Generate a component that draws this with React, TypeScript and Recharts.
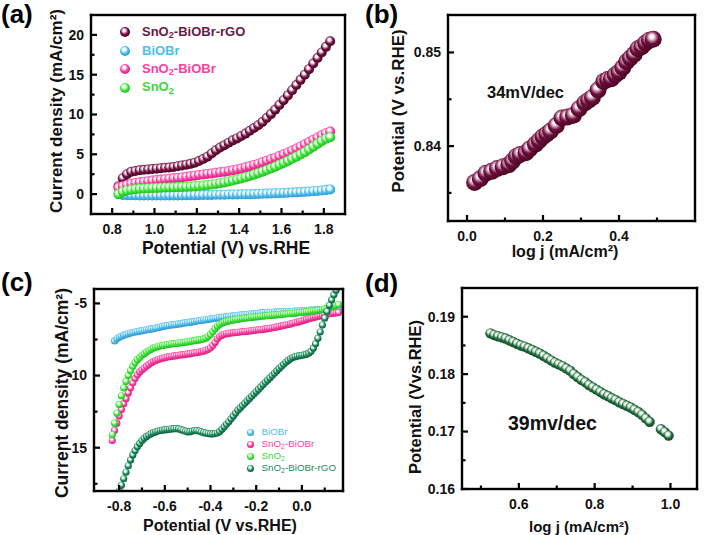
import React from 'react';
import { ScatterChart, Scatter, XAxis, YAxis } from 'recharts';

// ---------- (a) LSV, OER side ----------
const potentialA = [
  0.83, 0.85, 0.87, 0.89, 0.91, 0.93, 0.95, 0.97, 0.99, 1.01,
  1.03, 1.05, 1.07, 1.09, 1.11, 1.13, 1.15, 1.17, 1.19, 1.21,
  1.23, 1.25, 1.27, 1.29, 1.31, 1.33, 1.35, 1.37, 1.39, 1.41,
  1.43, 1.45, 1.47, 1.49, 1.51, 1.53, 1.55, 1.57, 1.59, 1.61,
  1.63, 1.65, 1.67, 1.69, 1.71, 1.73, 1.75, 1.77, 1.79, 1.81,
  1.83,
];
const rgoA = [
  1.0, 2.0, 2.5, 2.8, 2.9, 3.0, 3.05, 3.1, 3.15, 3.2,
  3.25, 3.3, 3.35, 3.4, 3.5, 3.6, 3.7, 3.8, 3.95, 4.15,
  4.4, 4.7, 5.1, 5.5, 5.85, 6.15, 6.45, 6.75, 7.0, 7.3,
  7.6, 7.95, 8.3, 8.65, 9.05, 9.55, 10.05, 10.6, 11.2, 11.8,
  12.4, 13.05, 13.7, 14.35, 15.0, 15.7, 16.4, 17.1, 17.8, 18.5,
  19.2,
];
const biobrA = [
  0.0, -0.1, -0.13, -0.15, -0.16, -0.17, -0.17, -0.18, -0.18, -0.18,
  -0.18, -0.18, -0.18, -0.17, -0.17, -0.16, -0.16, -0.15, -0.14, -0.13,
  -0.12, -0.11, -0.1, -0.09, -0.08, -0.07, -0.06, -0.05, -0.04, -0.03,
  -0.02, -0.01, 0.0, 0.02, 0.04, 0.06, 0.08, 0.1, 0.12, 0.14,
  0.16, 0.19, 0.22, 0.25, 0.28, 0.32, 0.36, 0.4, 0.45, 0.5,
  0.58,
];
const sno2BiobrA = [
  0.8, 1.0, 1.15, 1.3, 1.4, 1.48, 1.55, 1.62, 1.7, 1.76,
  1.82, 1.88, 1.93, 1.98, 2.03, 2.1, 2.17, 2.24, 2.32, 2.4,
  2.47, 2.54, 2.6, 2.67, 2.74, 2.82, 2.9, 3.0, 3.1, 3.22,
  3.36, 3.5, 3.66, 3.82, 4.0, 4.18, 4.37, 4.57, 4.78, 5.0,
  5.23, 5.47, 5.72, 5.98, 6.25, 6.53, 6.82, 7.1, 7.38, 7.65,
  7.85,
];
const sno2A = [
  0.0, 0.3, 0.45, 0.55, 0.62, 0.67, 0.7, 0.73, 0.76, 0.78,
  0.8, 0.82, 0.84, 0.86, 0.88, 0.9, 0.92, 0.95, 0.98, 1.02,
  1.07, 1.13, 1.2, 1.28, 1.37, 1.47, 1.58, 1.7, 1.83, 1.97,
  2.12, 2.28, 2.45, 2.63, 2.82, 3.02, 3.23, 3.45, 3.68, 3.92,
  4.17, 4.43, 4.7, 4.98, 5.27, 5.6, 5.95, 6.3, 6.65, 6.95,
  7.15,
];

// ---------- (b) Tafel, OER ----------
const logjB = [
  0.02, 0.035, 0.05, 0.065, 0.08, 0.095, 0.11, 0.12, 0.13, 0.14,
  0.155, 0.165, 0.18, 0.19, 0.2, 0.21, 0.22, 0.235, 0.25, 0.265,
  0.28, 0.295, 0.31, 0.32, 0.33, 0.345, 0.36, 0.37, 0.38, 0.39,
  0.4, 0.41, 0.42, 0.43, 0.44, 0.45, 0.46, 0.47, 0.48, 0.49,
];
const potentialB = [
  0.8361, 0.8365, 0.8371, 0.8373, 0.8376, 0.8378, 0.838, 0.8384, 0.8389, 0.8391,
  0.8393, 0.8397, 0.8402, 0.8406, 0.841, 0.8413, 0.8416, 0.8422, 0.843, 0.8431,
  0.8433, 0.844, 0.8446, 0.8449, 0.8452, 0.846, 0.8469, 0.8471, 0.8472, 0.8476,
  0.8479, 0.8484, 0.849, 0.8494, 0.8498, 0.8504, 0.8506, 0.851, 0.8513, 0.8514,
];

// ---------- (c) LSV, HER side ----------
const potentialC = [
  -0.83, -0.82, -0.81, -0.8, -0.79, -0.78, -0.77, -0.76, -0.75, -0.74,
  -0.73, -0.72, -0.71, -0.7, -0.69, -0.68, -0.67, -0.66, -0.65, -0.64,
  -0.63, -0.62, -0.61, -0.6, -0.59, -0.58, -0.57, -0.56, -0.55, -0.54,
  -0.53, -0.52, -0.51, -0.5, -0.49, -0.48, -0.47, -0.46, -0.45, -0.44,
  -0.43, -0.42, -0.41, -0.4, -0.39, -0.38, -0.37, -0.36, -0.35, -0.34,
  -0.33, -0.32, -0.31, -0.3, -0.29, -0.28, -0.27, -0.26, -0.25, -0.24,
  -0.23, -0.22, -0.21, -0.2, -0.19, -0.18, -0.17, -0.16, -0.15, -0.14,
  -0.13, -0.12, -0.11, -0.1, -0.09, -0.08, -0.07, -0.06, -0.05, -0.04,
  -0.03, -0.02, -0.01, 0.0, 0.01, 0.02, 0.03, 0.04, 0.05, 0.06,
  0.07, 0.08, 0.09, 0.1, 0.11, 0.12, 0.13, 0.14, 0.15, 0.16,
];
const biobrC = [
  null, -7.6, -7.45, -7.35, -7.28, -7.2, -7.15, -7.1, -7.05, -7.02,
  -6.98, -6.95, -6.92, -6.89, -6.86, -6.83, -6.8, -6.77, -6.74, -6.71,
  -6.68, -6.64, -6.6, -6.56, -6.54, -6.52, -6.49, -6.47, -6.45, -6.42,
  -6.4, -6.37, -6.35, -6.33, -6.3, -6.28, -6.25, -6.22, -6.2, -6.17,
  -6.15, -6.13, -6.1, -6.08, -6.06, -6.03, -6.01, -5.99, -5.97, -5.95,
  -5.92, -5.9, -5.87, -5.86, -5.84, -5.82, -5.81, -5.79, -5.78, -5.76,
  -5.75, -5.73, -5.72, -5.7, -5.68, -5.66, -5.64, -5.63, -5.62, -5.62,
  -5.61, -5.6, -5.6, -5.59, -5.58, -5.58, -5.57, -5.56, -5.56, -5.55,
  -5.54, -5.53, -5.52, -5.51, -5.5, -5.49, -5.48, -5.47, -5.46, -5.45,
  -5.44, -5.43, -5.42, -5.41, -5.39, -5.37, -5.35, -5.33, -5.31, -5.3,
];
const sno2BiobrC = [
  -14.5, -13.8, -13.3, -12.8, -12.35, -11.95, -11.6, -11.2, -10.85, -10.5,
  -10.2, -9.95, -9.75, -9.6, -9.48, -9.35, -9.23, -9.12, -9.03, -8.95,
  -8.89, -8.84, -8.8, -8.76, -8.72, -8.69, -8.66, -8.64, -8.62, -8.59,
  -8.57, -8.55, -8.53, -8.5, -8.48, -8.45, -8.43, -8.4, -8.37, -8.34,
  -8.3, -8.25, -8.18, -8.08, -7.92, -7.7, -7.45, -7.3, -7.2, -7.14,
  -7.1, -7.07, -7.05, -7.03, -7.02, -7.0, -6.98, -6.96, -6.95, -6.93,
  -6.91, -6.89, -6.87, -6.85, -6.83, -6.81, -6.79, -6.77, -6.74, -6.72,
  -6.69, -6.66, -6.63, -6.6, -6.56, -6.53, -6.5, -6.46, -6.42, -6.38,
  -6.34, -6.3, -6.26, -6.21, -6.16, -6.11, -6.06, -6.02, -5.98, -5.94,
  -5.9, -5.86, -5.82, -5.78, -5.75, -5.72, -5.69, -5.67, -5.65, -5.63,
];
const sno2C = [
  -14.1, -13.3, -12.6, -12.0, -11.4, -10.85, -10.4, -10.0, -9.65, -9.35,
  -9.1, -8.9, -8.75, -8.6, -8.48, -8.37, -8.27, -8.18, -8.1, -8.04,
  -7.99, -7.95, -7.91, -7.88, -7.85, -7.83, -7.81, -7.79, -7.77, -7.75,
  -7.73, -7.71, -7.68, -7.66, -7.63, -7.6, -7.58, -7.55, -7.53, -7.5,
  -7.46, -7.4, -7.3, -7.15, -6.95, -6.75, -6.58, -6.45, -6.37, -6.3,
  -6.25, -6.21, -6.18, -6.15, -6.12, -6.1, -6.07, -6.05, -6.02, -6.0,
  -5.98, -5.96, -5.95, -5.93, -5.91, -5.89, -5.88, -5.86, -5.85, -5.83,
  -5.82, -5.8, -5.79, -5.77, -5.76, -5.74, -5.73, -5.71, -5.7, -5.68,
  -5.67, -5.65, -5.63, -5.62, -5.6, -5.58, -5.56, -5.54, -5.52, -5.5,
  -5.47, -5.44, -5.41, -5.37, -5.33, -5.28, -5.23, -5.18, -5.13, -5.08,
];
const rgoC = [
  null, null, null, -18.0, -17.6, -17.15, -16.7, -16.25, -15.85, -15.5,
  -15.2, -14.93, -14.7, -14.5, -14.35, -14.22, -14.12, -14.03, -13.96, -13.9,
  -13.85, -13.81, -13.78, -13.76, -13.74, -13.72, -13.7, -13.69, -13.68, -13.7,
  -13.74, -13.8, -13.86, -13.9, -13.89, -13.85, -13.82, -13.82, -13.85, -13.9,
  -13.95, -13.99, -14.02, -14.04, -14.04, -14.02, -13.98, -13.88, -13.72, -13.55,
  -13.38, -13.2, -13.0, -12.8, -12.6, -12.4, -12.24, -12.08, -11.92, -11.76,
  -11.6, -11.44, -11.28, -11.12, -10.96, -10.8, -10.63, -10.47, -10.32, -10.16,
  -10.0, -9.84, -9.68, -9.52, -9.37, -9.22, -9.08, -8.95, -8.84, -8.75,
  -8.69, -8.65, -8.62, -8.6, -8.57, -8.52, -8.45, -8.32, -8.1, -7.8,
  -7.42, -6.98, -6.5, -6.02, -5.56, -5.13, -4.75, -4.4, -4.08, null,
];

// ---------- (d) Tafel, HER ----------
const logjD = [
  0.525, 0.535, 0.545, 0.555, 0.565, 0.575, 0.585, 0.595, 0.605, 0.615,
  0.625, 0.635, 0.645, 0.655, 0.665, 0.675, 0.685, 0.695, 0.705, 0.715,
  0.725, 0.735, 0.745, 0.755, 0.765, 0.775, 0.785, 0.795, 0.805, 0.815,
  0.825, 0.835, 0.845, 0.855, 0.865, 0.875, 0.885, 0.895, 0.905, 0.915,
  0.925, 0.935, 0.945, 0.975, 0.985, 0.995,
];
const potentialD = [
  0.1871, 0.1868, 0.1866, 0.1864, 0.1862, 0.1859, 0.1856, 0.1853, 0.185, 0.1848,
  0.1845, 0.1842, 0.1839, 0.1836, 0.1832, 0.1828, 0.1824, 0.182, 0.1817, 0.1814,
  0.181, 0.1806, 0.18, 0.1795, 0.179, 0.1786, 0.1781, 0.1777, 0.1773, 0.1769,
  0.1765, 0.1762, 0.1758, 0.1755, 0.1751, 0.1748, 0.1745, 0.1742, 0.1738, 0.1734,
  0.1729, 0.1723, 0.1717, 0.1704, 0.1699, 0.1693,
];

// ticks (major ones get labels)
const ticksAx = [0.8, 0.9, 1.0, 1.1, 1.2, 1.3, 1.4, 1.5, 1.6, 1.7, 1.8];
const majorAx = [0.8, 1.0, 1.2, 1.4, 1.6, 1.8];
const ticksAy = [0, 2.5, 5, 7.5, 10, 12.5, 15, 17.5, 20];
const majorAy = [0, 5, 10, 15, 20];
const ticksBx = [0, 0.1, 0.2, 0.3, 0.4, 0.5];
const majorBx = [0, 0.2, 0.4];
const ticksBy = [0.835, 0.84, 0.845, 0.85];
const majorBy = [0.84, 0.85];
const ticksCx = [-0.8, -0.7, -0.6, -0.5, -0.4, -0.3, -0.2, -0.1, 0, 0.1];
const majorCx = [-0.8, -0.6, -0.4, -0.2, 0];
const ticksCy = [-17.5, -15, -12.5, -10, -7.5, -5];
const majorCy = [-15, -10, -5];
const ticksDx = [0.5, 0.6, 0.7, 0.8, 0.9, 1.0];
const majorDx = [0.6, 0.8, 1.0];
const ticksDy = [0.16, 0.165, 0.17, 0.175, 0.18, 0.185, 0.19];
const majorDy = [0.16, 0.17, 0.18, 0.19];

const zip = (xs: number[], ys: (number | null)[]) =>
  xs.map((x, i) => ({ x, y: ys[i] })).filter((p) => p.y != null) as { x: number; y: number }[];

const spheres: Record<string, [string, string, string]> = {
  maroon: ['#d9a3bd', '#6d0f3d', '#45061f'],
  blue: ['#d4f2fd', '#4dbdf0', '#2a93c8'],
  pink: ['#ffc6e3', '#ff3ea0', '#d41c7a'],
  green: ['#ccffc6', '#3de83a', '#1fb51f'],
  teal: ['#b8e4d2', '#1d8b5e', '#0d5a3a'],
  forest: ['#c2ddc9', '#1f6b3a', '#0f4424'],
};

const FONT = '"Liberation Sans", Arial, sans-serif';
const INK = '#000';

const near = (list: number[], v: number) => list.some((m) => Math.abs(m - v) < 1e-7);

// ticks point into the plot; drawn as filled rects
const xTick = (major: number[], digits: number, size: number) => (p: any) => {
  const v = p.payload.value;
  const big = near(major, v);
  const len = big ? 6 : 3.5;
  return (
    <g>
      <rect x={p.x - 1.1} y={p.y - len} width={2.2} height={len} fill={INK} />
      {big && (
        <text x={p.x} y={p.y + 20} textAnchor="middle" fontSize={size} fontWeight="bold" fontFamily={FONT} fill="#111">
          {v.toFixed(digits)}
        </text>
      )}
    </g>
  );
};

const yTick = (major: number[], digits: number, size: number) => (p: any) => {
  const v = p.payload.value;
  const big = near(major, v);
  const len = big ? 6 : 3.5;
  return (
    <g>
      <rect x={p.x} y={p.y - 1.1} width={len} height={2.2} fill={INK} />
      {big && (
        <text x={p.x - 7} y={p.y} dy="0.35em" textAnchor="end" fontSize={size} fontWeight="bold" fontFamily={FONT} fill="#111">
          {v.toFixed(digits)}
        </text>
      )}
    </g>
  );
};

const sphere = (key: string, r: number) => (props: any) =>
  props.cx == null ? <g /> : <circle cx={props.cx} cy={props.cy} r={r} fill={`url(#sph-${key})`} />;

interface Series { name: string; color: string; r: number; data: { x: number; y: number }[] }

interface PanelProps {
  left: number; top: number; width: number; height: number;
  mTop: number; mRight: number; yWidth: number; xHeight: number;
  xDomain: [number, number]; yDomain: [number, number];
  xTicks: number[]; xMajor: number[]; xDigits: number;
  yTicks: number[]; yMajor: number[]; yDigits: number;
  xSize: number; ySize: number;
  series: Series[];
}

function Panel(p: PanelProps) {
  // the plot rectangle follows from the margins and axis sizes
  const fx = p.yWidth;
  const fy = p.mTop;
  const fw = p.width - p.mRight - p.yWidth;
  const fh = p.height - p.mTop - p.xHeight;
  const t = 2.4;
  return (
    <div style={{ position: 'absolute', left: p.left, top: p.top, width: p.width, height: p.height }}>
      <ScatterChart width={p.width} height={p.height} margin={{ top: p.mTop, right: p.mRight, left: 0, bottom: 0 }}>
        <XAxis type="number" dataKey="x" domain={p.xDomain} allowDataOverflow ticks={p.xTicks} interval={0}
          height={p.xHeight} axisLine={false} tickLine={false} tickSize={0} tickMargin={0}
          tick={xTick(p.xMajor, p.xDigits, p.xSize)} />
        <YAxis type="number" dataKey="y" domain={p.yDomain} allowDataOverflow ticks={p.yTicks} interval={0}
          width={p.yWidth} axisLine={false} tickLine={false} tickSize={0} tickMargin={0}
          tick={yTick(p.yMajor, p.yDigits, p.ySize)} />
        {p.series.map((s) => (
          <Scatter key={s.name} name={s.name} data={s.data} isAnimationActive={false} shape={sphere(s.color, s.r)} />
        ))}
      </ScatterChart>
      <svg width={p.width} height={p.height} style={{ position: 'absolute', left: 0, top: 0, pointerEvents: 'none' }}>
        <rect x={fx - t / 2} y={fy - t / 2} width={fw + t} height={t} fill={INK} />
        <rect x={fx - t / 2} y={fy + fh - t / 2} width={fw + t} height={t} fill={INK} />
        <rect x={fx - t / 2} y={fy - t / 2} width={t} height={fh + t} fill={INK} />
        <rect x={fx + fw - t / 2} y={fy - t / 2} width={t} height={fh + t} fill={INK} />
      </svg>
    </div>
  );
}

const Sno2 = ({ rest }: { rest: string }) => (
  <>SnO<span style={{ fontSize: '0.7em', position: 'relative', top: '0.3em' }}>2</span>{rest}</>
);

function Legend({ x, y, gap, r, size, bold, textGap, items }: any) {
  return (
    <>
      {items.map((it: any, i: number) => (
        <div key={i} style={{ position: 'absolute', left: x - r, top: y + i * gap - 10, height: 20, display: 'flex', alignItems: 'center', whiteSpace: 'nowrap' }}>
          <svg width={r * 2} height={r * 2} style={{ flex: 'none' }}>
            <circle cx={r} cy={r} r={r} fill={`url(#sph-${it.color})`} />
          </svg>
          <span style={{ marginLeft: textGap, fontSize: size, fontWeight: bold ? 700 : 400, color: it.text, lineHeight: '20px' }}>
            {it.sno2 ? <Sno2 rest={it.label} /> : it.label}
          </span>
        </div>
      ))}
    </>
  );
}

const abs = (l: number, t: number, extra: React.CSSProperties = {}): React.CSSProperties => ({
  position: 'absolute', left: l, top: t, whiteSpace: 'nowrap', ...extra,
});

function YTitle({ cx, cy, children, size }: any) {
  return (
    <div style={abs(cx, cy, { transform: 'translate(-50%, -50%) rotate(-90deg)', fontSize: size, fontWeight: 700, color: '#111' })}>
      {children}
    </div>
  );
}

function XTitle({ cx, cy, children, size }: any) {
  return (
    <div style={abs(cx, cy, { transform: 'translate(-50%, -50%)', fontSize: size, fontWeight: 700, color: '#111' })}>
      {children}
    </div>
  );
}

export default function App() {
  const seriesA: Series[] = [
    { name: 'SnO2-BiOBr-rGO', color: 'maroon', r: 5, data: zip(potentialA, rgoA) },
    { name: 'BiOBr', color: 'blue', r: 5, data: zip(potentialA, biobrA) },
    { name: 'SnO2-BiOBr', color: 'pink', r: 5, data: zip(potentialA, sno2BiobrA) },
    { name: 'SnO2', color: 'green', r: 5, data: zip(potentialA, sno2A) },
  ];
  const seriesB: Series[] = [{ name: 'tafel-b', color: 'maroon', r: 8.5, data: zip(logjB, potentialB) }];
  const seriesC: Series[] = [
    { name: 'BiOBr', color: 'blue', r: 3.6, data: zip(potentialC, biobrC) },
    { name: 'SnO2-BiOBr', color: 'pink', r: 3.6, data: zip(potentialC, sno2BiobrC) },
    { name: 'SnO2', color: 'green', r: 3.6, data: zip(potentialC, sno2C) },
    { name: 'SnO2-BiOBr-rGO', color: 'teal', r: 3.6, data: zip(potentialC, rgoC) },
  ];
  const seriesD: Series[] = [{ name: 'tafel-d', color: 'forest', r: 5.2, data: zip(logjD, potentialD) }];

  return (
    <div style={{ position: 'absolute', left: 0, top: 0, width: 704, height: 535, background: '#fff', overflow: 'hidden', fontFamily: FONT }}>
      <svg width={0} height={0} style={{ position: 'absolute' }}>
        <defs>
          {Object.entries(spheres).map(([k, [light, base, dark]]) => (
            <radialGradient key={k} id={`sph-${k}`} cx="0.45" cy="0.42" r="0.6" fx="0.4" fy="0.32">
              <stop offset="0" stopColor="#ffffff" />
              <stop offset="0.18" stopColor="#ffffff" stopOpacity={0.95} />
              <stop offset="0.34" stopColor={light} />
              <stop offset="0.62" stopColor={base} />
              <stop offset="1" stopColor={dark} />
            </radialGradient>
          ))}
        </defs>
      </svg>

      <Panel left={0} top={0} width={352} height={260} mTop={15} mRight={7} yWidth={91} xHeight={46}
        xDomain={[0.7, 1.9]} yDomain={[-2.5, 22.5]} xTicks={ticksAx} xMajor={majorAx} xDigits={1}
        yTicks={ticksAy} yMajor={majorAy} yDigits={0} xSize={14} ySize={14} series={seriesA} />
      <Panel left={352} top={0} width={352} height={260} mTop={15} mRight={9} yWidth={96} xHeight={39}
        xDomain={[-0.05, 0.6]} yDomain={[0.832, 0.854]} xTicks={ticksBx} xMajor={majorBx} xDigits={1}
        yTicks={ticksBy} yMajor={majorBy} yDigits={2} xSize={14} ySize={14} series={seriesB} />
      <Panel left={0} top={260} width={352} height={275} mTop={29} mRight={9} yWidth={94} xHeight={44}
        xDomain={[-0.91, 0.18]} yDomain={[-18, -4]} xTicks={ticksCx} xMajor={majorCx} xDigits={1}
        yTicks={ticksCy} yMajor={majorCy} yDigits={0} xSize={14} ySize={14} series={seriesC} />
      <Panel left={352} top={260} width={352} height={275} mTop={28} mRight={7} yWidth={110} xHeight={46}
        xDomain={[0.45, 1.07]} yDomain={[0.16, 0.195]} xTicks={ticksDx} xMajor={majorDx} xDigits={1}
        yTicks={ticksDy} yMajor={majorDy} yDigits={2} xSize={14} ySize={14} series={seriesD} />

      {/* panel letters */}
      <div style={abs(1, -1, { fontSize: 26, fontWeight: 700 })}>(a)</div>
      <div style={abs(365, -1, { fontSize: 26, fontWeight: 700 })}>(b)</div>
      <div style={abs(1, 267, { fontSize: 26, fontWeight: 700 })}>(c)</div>
      <div style={abs(365, 268, { fontSize: 26, fontWeight: 700 })}>(d)</div>

      {/* axis titles */}
      <YTitle cx={57} cy={111} size={17}>Current density (mA/cm²)</YTitle>
      <XTitle cx={226} cy={248} size={17.5}>Potential (V) vs.RHE</XTitle>
      <YTitle cx={399} cy={111} size={17}>Potential (V vs.RHE)</YTitle>
      <XTitle cx={565} cy={252} size={16}>log j (mA/cm²)</XTitle>
      <YTitle cx={62} cy={393} size={17.5}>Current density (mA/cm²)</YTitle>
      <XTitle cx={220} cy={526} size={16}>Potential (V vs.RHE)</XTitle>
      <YTitle cx={415} cy={397} size={16.5}>Potential (Vvs.RHE)</YTitle>
      <XTitle cx={579} cy={526} size={15}>log j (mA/cm²)</XTitle>

      {/* annotations */}
      <div style={abs(487, 83, { fontSize: 16.5, fontWeight: 700, color: '#111' })}>34mV/dec</div>
      <div style={abs(508, 412, { fontSize: 19.5, fontWeight: 700, color: '#111' })}>39mv/dec</div>

      <Legend x={125} y={32} gap={18.5} r={5} size={13} bold textGap={12} items={[
        { color: 'maroon', text: '#6b1a43', label: '-BiOBr-rGO', sno2: true },
        { color: 'blue', text: '#4fbdef', label: 'BiOBr' },
        { color: 'pink', text: '#ff3ea0', label: '-BiOBr', sno2: true },
        { color: 'green', text: '#3ad83a', label: '', sno2: true },
      ]} />
      <Legend x={250} y={432} gap={12.2} r={3.5} size={9.8} textGap={8} items={[
        { color: 'blue', text: '#4fbdef', label: 'BiOBr' },
        { color: 'pink', text: '#ff3ea0', label: '-BiOBr', sno2: true },
        { color: 'green', text: '#3ad83a', label: '', sno2: true },
        { color: 'teal', text: '#1d8b5e', label: '-BiOBr-rGO', sno2: true },
      ]} />
    </div>
  );
}
